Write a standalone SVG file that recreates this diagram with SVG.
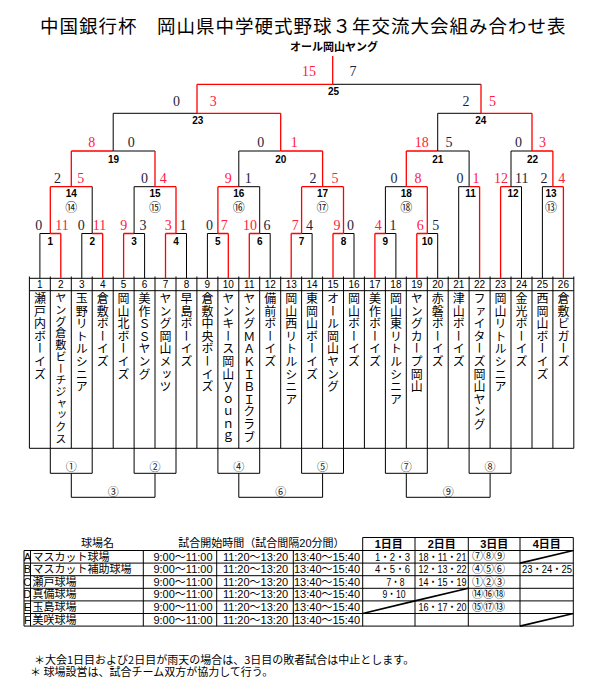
<svg xmlns="http://www.w3.org/2000/svg" width="592" height="691" viewBox="0 0 592 691">
<style>
.k{stroke:#000;stroke-width:1;fill:none}
.r{stroke:#f00;stroke-width:1.3;fill:none}
.sc{font-family:"Liberation Serif",serif;font-size:14px;text-anchor:middle}
.sr{fill:#ff2040}
.sb{fill:#1e1e3c}
.lb{font-family:"Liberation Sans",Arial,sans-serif;font-size:10px;font-weight:bold;text-anchor:middle;fill:#000}
.ci{font-family:"Noto Sans CJK JP",sans-serif;font-size:12px;text-anchor:middle;fill:#222}
.cb{font-family:"Noto Sans CJK JP",sans-serif;font-size:11px;text-anchor:middle;fill:#222}
.nm{font-family:"Noto Sans CJK JP",sans-serif;font-size:12px;writing-mode:vertical-rl;letter-spacing:0.6px;fill:#000}
.nu{font-family:"Liberation Sans",Arial,sans-serif;font-size:10px;text-anchor:middle;fill:#000}
.tt{font-family:"Noto Sans CJK JP",sans-serif;fill:#000}
.tb{font-family:"Liberation Sans","Noto Sans CJK JP",sans-serif;font-size:11px;fill:#000}
.tm{text-anchor:middle}
</style>

<text class="tt" x="40" y="33" font-size="18.5" letter-spacing="1">中国銀行杯　岡山県中学硬式野球３年交流大会組み合わせ表</text>
<text class="tt" x="334" y="51" font-size="11" font-weight="bold" text-anchor="middle">オール岡山ヤング</text>

<g id="connectors">
<path class="k" d="M29.4,278.3H573.8M29.4,290.7H573.8M29.4,448.3H573.8"/>
<path class="k" d="M29.4,276.5V448.3M50.3,276.5V448.3M71.3,276.5V448.3M92.2,276.5V448.3M113.2,276.5V448.3M134.1,276.5V448.3M155,276.5V448.3M176,276.5V448.3M196.9,276.5V448.3M217.9,276.5V448.3M238.8,276.5V448.3M259.7,276.5V448.3M280.7,276.5V448.3M301.6,276.5V448.3M322.6,276.5V448.3M343.5,276.5V448.3M364.4,276.5V448.3M385.4,276.5V448.3M406.3,276.5V448.3M427.3,276.5V448.3M448.2,276.5V448.3M469.1,276.5V448.3M490.1,276.5V448.3M511,276.5V448.3M532,276.5V448.3M552.9,276.5V448.3M573.8,276.5V448.3"/>
<path class="k" d="M39.9,278.3V233.5M81.8,278.3V233.5M144.6,278.3V233.5M186.5,278.3V233.5M207.4,278.3V233.5M270.2,278.3V233.5M312.1,278.3V233.5M354,278.3V233.5M395.9,278.3V233.5M437.7,278.3V233.5M458.7,278.3V186.7M521.5,278.3V186.7M542.4,278.3V186.7"/>
<path class="r" d="M60.8,278.3V233.5M102.7,278.3V233.5M123.6,278.3V233.5M165.5,278.3V233.5M228.3,278.3V233.5M249.3,278.3V233.5M291.2,278.3V233.5M333,278.3V233.5M374.9,278.3V233.5M416.8,278.3V233.5M479.6,278.3V186.7M500.6,278.3V186.7M563.4,278.3V186.7"/>
<path class="k" d="M39.9,233.5H50.3M81.8,233.5H92.2M134.1,233.5H144.6M176,233.5H186.5M207.4,233.5H217.9M259.7,233.5H270.2M301.6,233.5H312.1M343.5,233.5H354M385.4,233.5H395.9M427.3,233.5H437.7"/>
<path class="r" d="M50.3,233.5H60.8M92.2,233.5H102.7M123.6,233.5H134.1M165.5,233.5H176M217.9,233.5H228.3M249.3,233.5H259.7M291.2,233.5H301.6M333,233.5H343.5M374.9,233.5H385.4M416.8,233.5H427.3"/>
<path class="k" d="M458.7,186.7H469.1M511,186.7H521.5M542.4,186.7H552.9M134.1,186.7H155M238.8,186.7H259.7M385.4,186.7H406.3"/>
<path class="r" d="M469.1,186.7H479.6M500.6,186.7H511M552.9,186.7H563.4M50.3,186.7H92.2M155,186.7H176M217.9,186.7H238.8M301.6,186.7H343.5M406.3,186.7H427.3"/>
<path class="k" d="M92.2,233.5V186.7M134.1,233.5V186.7M259.7,233.5V186.7M385.4,233.5V186.7"/>
<path class="r" d="M50.3,233.5V186.7M176,233.5V186.7M217.9,233.5V186.7M301.6,233.5V186.7M343.5,233.5V186.7M427.3,233.5V186.7"/>
<path class="k" d="M113.2,151H155M238.8,151H280.7M437.7,151H469.1M511,151H532"/>
<path class="r" d="M71.3,151H113.2M280.7,151H322.6M406.3,151H437.7M532,151H552.9"/>
<path class="k" d="M238.8,186.7V151M469.1,186.7V151M511,186.7V151"/>
<path class="r" d="M71.3,186.7V151M155,186.7V151M322.6,186.7V151M406.3,186.7V151M552.9,186.7V151"/>
<path class="k" d="M113.2,113.3H197M437.7,113.3H481"/>
<path class="r" d="M197,113.3H280.7M481,113.3H532"/>
<path class="k" d="M113.2,151V113.3M437.7,151V113.3"/>
<path class="r" d="M280.7,151V113.3M532,151V113.3"/>
<path class="k" d="M332.7,84.3H481"/>
<path class="r" d="M197,84.3H332.7M197,113.3V84.3M481,113.3V84.3M332.7,84.3V56"/>
<path class="k" d="M50.3,448.3V473.3H92.2V448.3M134.1,448.3V473.3H176V448.3M217.9,448.3V473.3H259.7V448.3M301.6,448.3V473.3H343.5V448.3M385.4,448.3V473.3H427.3V448.3M469.1,448.3V473.3H511V448.3"/>
<path class="k" d="M71.3,473.3V497.3H155V473.3M238.8,473.3V497.3H322.6V473.3M406.3,473.3V497.3H490.1V473.3"/>
</g>

<g id="m1"><text class="sc sb" x="38.8" y="230">0</text><text class="sc sr" x="62" y="230">11</text><text class="lb" x="50.3" y="245">1</text></g>
<g id="m2"><text class="sc sb" x="81.3" y="230">0</text><text class="sc sr" x="99.5" y="230">11</text><text class="lb" x="92.2" y="245">2</text></g>
<g id="m3"><text class="sc sr" x="123.8" y="230">9</text><text class="sc sb" x="143" y="230">3</text><text class="lb" x="134.1" y="245">3</text></g>
<g id="m4"><text class="sc sr" x="168.3" y="230">3</text><text class="sc sb" x="183" y="230">1</text><text class="lb" x="176" y="245">4</text></g>
<g id="m5"><text class="sc sb" x="209.5" y="230">0</text><text class="sc sr" x="224.2" y="230">7</text><text class="lb" x="217.9" y="245">5</text></g>
<g id="m6"><text class="sc sr" x="250" y="230">10</text><text class="sc sb" x="267" y="230">6</text><text class="lb" x="259.7" y="245">6</text></g>
<g id="m7"><text class="sc sr" x="295.3" y="230">7</text><text class="sc sb" x="309.5" y="230">4</text><text class="lb" x="301.6" y="245">7</text></g>
<g id="m8"><text class="sc sr" x="337" y="230">9</text><text class="sc sb" x="350.5" y="230">0</text><text class="lb" x="343.5" y="245">8</text></g>
<g id="m9"><text class="sc sr" x="378.3" y="230">4</text><text class="sc sb" x="393" y="230">1</text><text class="lb" x="385.4" y="245">9</text></g>
<g id="m10"><text class="sc sr" x="420.3" y="230">6</text><text class="sc sb" x="435.7" y="230">5</text><text class="lb" x="427.3" y="245">10</text></g>
<g id="m11"><text class="sc sb" x="460" y="182.5">0</text><text class="sc sr" x="476" y="182.5">1</text><text class="lb" x="470.5" y="196.7">11</text></g>
<g id="m12"><text class="sc sr" x="501" y="182.5">12</text><text class="sc sb" x="521.7" y="182.5">11</text><text class="lb" x="513" y="196.7">12</text></g>
<g id="m13"><text class="sc sb" x="544" y="182.5">2</text><text class="sc sr" x="561.7" y="182.5">4</text><text class="lb" x="551" y="196.7">13</text><text class="ci" x="551" y="211.5">⑬</text></g>
<g id="m14"><text class="sc sb" x="57.5" y="182.5">2</text><text class="sc sr" x="80.7" y="182.5">5</text><text class="lb" x="71.3" y="196.7">14</text><text class="ci" x="71.3" y="211.5">⑭</text></g>
<g id="m15"><text class="sc sb" x="144.5" y="182.5">0</text><text class="sc sr" x="163.3" y="182.5">4</text><text class="lb" x="155" y="196.7">15</text><text class="ci" x="155" y="211.5">⑮</text></g>
<g id="m16"><text class="sc sr" x="228.3" y="182.5">9</text><text class="sc sb" x="248.2" y="182.5">1</text><text class="lb" x="238.8" y="196.7">16</text><text class="ci" x="238.8" y="211.5">⑯</text></g>
<g id="m17"><text class="sc sb" x="313" y="182.5">2</text><text class="sc sr" x="335" y="182.5">5</text><text class="lb" x="322.6" y="196.7">17</text><text class="ci" x="322.6" y="211.5">⑰</text></g>
<g id="m18"><text class="sc sb" x="394" y="182.5">0</text><text class="sc sr" x="418" y="182.5">8</text><text class="lb" x="406.3" y="196.7">18</text><text class="ci" x="406.3" y="211.5">⑱</text></g>
<g id="m19"><text class="sc sr" x="91.7" y="147">8</text><text class="sc sb" x="131.3" y="147">0</text><text class="lb" x="113.5" y="162.5">19</text></g>
<g id="m20"><text class="sc sb" x="260.8" y="147">0</text><text class="sc sr" x="294.2" y="147">1</text><text class="lb" x="280.8" y="162.5">20</text></g>
<g id="m21"><text class="sc sr" x="421.7" y="147">18</text><text class="sc sb" x="449" y="147">5</text><text class="lb" x="437.7" y="162.5">21</text></g>
<g id="m22"><text class="sc sb" x="518.5" y="147">0</text><text class="sc sr" x="542.5" y="147">3</text><text class="lb" x="532.5" y="162.5">22</text></g>
<g id="m23"><text class="sc sb" x="176.6" y="106">0</text><text class="sc sr" x="213.2" y="106">3</text><text class="lb" x="197.7" y="124">23</text></g>
<g id="m24"><text class="sc sb" x="466" y="106">2</text><text class="sc sr" x="492.5" y="106">5</text><text class="lb" x="480.8" y="124">24</text></g>
<g id="m25"><text class="sc sr" x="309" y="76">15</text><text class="sc sb" x="353" y="76">7</text><text class="lb" x="333.5" y="95">25</text></g>

<g id="bottom">
<text class="cb" x="71.3" y="471">①</text><text class="cb" x="155" y="471">②</text><text class="cb" x="238.8" y="471">④</text><text class="cb" x="322.6" y="471">⑤</text><text class="cb" x="406.3" y="471">⑦</text><text class="cb" x="490.1" y="471">⑧</text>
<text class="cb" x="113.2" y="495.5">③</text><text class="cb" x="280.7" y="495.5">⑥</text><text class="cb" x="448.2" y="495.5">⑨</text>
</g>

<g id="teams">
<g id="t1"><text class="nu" x="39.9" y="288.3">1</text><text class="nm" x="39.9" y="292.5">瀬戸内ボーイズ</text></g>
<g id="t2"><text class="nu" x="60.8" y="288.3">2</text><text class="nm" x="60.8" y="292.5" style="font-size:11.2px;letter-spacing:0.5px">ヤング倉敷ビーチジャックス</text></g>
<g id="t3"><text class="nu" x="81.8" y="288.3">3</text><text class="nm" x="81.8" y="292.5">玉野リトルシニア</text></g>
<g id="t4"><text class="nu" x="102.7" y="288.3">4</text><text class="nm" x="102.7" y="292.5">倉敷ボーイズ</text></g>
<g id="t5"><text class="nu" x="123.6" y="288.3">5</text><text class="nm" x="123.6" y="292.5">岡山北ボーイズ</text></g>
<g id="t6"><text class="nu" x="144.6" y="288.3">6</text><text class="nm" x="144.6" y="292.5">美作ＳＳヤング</text></g>
<g id="t7"><text class="nu" x="165.5" y="288.3">7</text><text class="nm" x="165.5" y="292.5">ヤング岡山メッツ</text></g>
<g id="t8"><text class="nu" x="186.5" y="288.3">8</text><text class="nm" x="186.5" y="292.5">早島ボーイズ</text></g>
<g id="t9"><text class="nu" x="207.4" y="288.3">9</text><text class="nm" x="207.4" y="292.5">倉敷中央ボーイズ</text></g>
<g id="t10"><text class="nu" x="228.3" y="288.3">10</text><text class="nm" x="228.3" y="292.5">ヤンキース岡山ｙｏｕｎｇ</text></g>
<g id="t11"><text class="nu" x="249.3" y="288.3">11</text><text class="nm" x="249.3" y="292.5">ヤングＭＡＫＩＢＩクラブ</text></g>
<g id="t12"><text class="nu" x="270.2" y="288.3">12</text><text class="nm" x="270.2" y="292.5">備前ボーイズ</text></g>
<g id="t13"><text class="nu" x="291.2" y="288.3">13</text><text class="nm" x="291.2" y="292.5">岡山西リトルシニア</text></g>
<g id="t14"><text class="nu" x="312.1" y="288.3">14</text><text class="nm" x="312.1" y="292.5">東岡山ボーイズ</text></g>
<g id="t15"><text class="nu" x="333" y="288.3">15</text><text class="nm" x="333" y="292.5">オール岡山ヤング</text></g>
<g id="t16"><text class="nu" x="354" y="288.3">16</text><text class="nm" x="354" y="292.5">岡山ボーイズ</text></g>
<g id="t17"><text class="nu" x="374.9" y="288.3">17</text><text class="nm" x="374.9" y="292.5">美作ボーイズ</text></g>
<g id="t18"><text class="nu" x="395.9" y="288.3">18</text><text class="nm" x="395.9" y="292.5">岡山東リトルシニア</text></g>
<g id="t19"><text class="nu" x="416.8" y="288.3">19</text><text class="nm" x="416.8" y="292.5">ヤングカープ岡山</text></g>
<g id="t20"><text class="nu" x="437.7" y="288.3">20</text><text class="nm" x="437.7" y="292.5">赤磐ボーイズ</text></g>
<g id="t21"><text class="nu" x="458.7" y="288.3">21</text><text class="nm" x="458.7" y="292.5">津山ボーイズ</text></g>
<g id="t22"><text class="nu" x="479.6" y="288.3">22</text><text class="nm" x="479.6" y="292.5">ファイターズ岡山ヤング</text></g>
<g id="t23"><text class="nu" x="500.6" y="288.3">23</text><text class="nm" x="500.6" y="292.5">岡山リトルシニア</text></g>
<g id="t24"><text class="nu" x="521.5" y="288.3">24</text><text class="nm" x="521.5" y="292.5">金光ボーイズ</text></g>
<g id="t25"><text class="nu" x="542.4" y="288.3">25</text><text class="nm" x="542.4" y="292.5">西岡山ボーイズ</text></g>
<g id="t26"><text class="nu" x="563.4" y="288.3">26</text><text class="nm" x="563.4" y="292.5">倉敷ビガーズ</text></g>
</g>

<g id="table">
<path class="k" d="M362.7,537.5H573.3M24,550.5H573.3M24,563.1H573.3M24,575.7H573.3M24,588.3H573.3M24,600.9H573.3M24,613.5H573.3M24,626.1H573.3"/>
<path class="k" d="M24,550.5V626.1M30.5,550.5V626.1M143.3,550.5V626.1M216.7,550.5V626.1M293.3,550.5V626.1M362.7,537.5V626.1M415,537.5V626.1M468.3,537.5V626.1M520,537.5V626.1M573.3,537.5V626.1"/>
<path class="k" style="stroke-width:1.6" d="M520,563.1L573.3,550.5M415,600.9L468.3,588.3M362.7,613.5L415,600.9M520,626.1L573.3,613.5"/>
<text class="tt" x="97.5" y="547" font-size="11" text-anchor="middle">球場名</text>
<text class="tb" x="178.3" y="547">試合開始時間（試合間隔20分間）</text>
<text class="tb tm" x="388.8" y="547.5" font-weight="bold">1日目</text>
<text class="tb tm" x="441.7" y="547.5" font-weight="bold">2日目</text>
<text class="tb tm" x="494.2" y="547.5" font-weight="bold">3日目</text>
<text class="tb tm" x="546.7" y="547.5" font-weight="bold">4日目</text>
<g font-size="10.5">
<text class="tb tm" x="27.3" y="560.5">A</text><text class="tb tm" x="27.3" y="573.1">B</text><text class="tb tm" x="27.3" y="585.7">C</text><text class="tb tm" x="27.3" y="598.3">D</text><text class="tb tm" x="27.3" y="610.9">E</text><text class="tb tm" x="27.3" y="623.5">F</text>
<text class="tb" x="32.5" y="560.5">マスカット球場</text><text class="tb" x="32.5" y="573.1">マスカット補助球場</text><text class="tb" x="32.5" y="585.7">瀬戸球場</text><text class="tb" x="32.5" y="598.3">真備球場</text><text class="tb" x="32.5" y="610.9">玉島球場</text><text class="tb" x="32.5" y="623.5">美咲球場</text>
</g>
<g class="tb tm">
<text x="183" y="560.5">9:00〜11:00</text><text x="183" y="573.1">9:00〜11:00</text><text x="183" y="585.7">9:00〜11:00</text><text x="183" y="598.3">9:00〜11:00</text><text x="183" y="610.9">9:00〜11:00</text><text x="183" y="623.5">9:00〜11:00</text>
<text x="255.5" y="560.5">11:20〜13:20</text><text x="255.5" y="573.1">11:20〜13:20</text><text x="255.5" y="585.7">11:20〜13:20</text><text x="255.5" y="598.3">11:20〜13:20</text><text x="255.5" y="610.9">11:20〜13:20</text><text x="255.5" y="623.5">11:20〜13:20</text>
<text x="327" y="560.5">13:40〜15:40</text><text x="327" y="573.1">13:40〜15:40</text><text x="327" y="585.7">13:40〜15:40</text><text x="327" y="598.3">13:40〜15:40</text><text x="327" y="610.9">13:40〜15:40</text><text x="327" y="623.5">13:40〜15:40</text>
<text x="392.5" y="560.5" textLength="35" lengthAdjust="spacingAndGlyphs">1・2・3</text><text x="392.5" y="573.1" textLength="35" lengthAdjust="spacingAndGlyphs">4・5・6</text><text x="395.5" y="585.7" textLength="18" lengthAdjust="spacingAndGlyphs">7・8</text><text x="394" y="598.3" textLength="23" lengthAdjust="spacingAndGlyphs">9・10</text>
</g>
<g class="tb tm" font-size="10">
<text x="442.5" y="560.5" textLength="48" lengthAdjust="spacingAndGlyphs">18・11・21</text><text x="442.5" y="573.1" textLength="48" lengthAdjust="spacingAndGlyphs">12・13・22</text><text x="442.5" y="585.7" textLength="48" lengthAdjust="spacingAndGlyphs">14・15・19</text><text x="442.5" y="610.9" textLength="48" lengthAdjust="spacingAndGlyphs">16・17・20</text>
<text x="547" y="573.1" textLength="50" lengthAdjust="spacingAndGlyphs">23・24・25</text>
</g>
<g class="tt tm" font-size="11">
<text x="488.5" y="560.3">⑦⑧⑨</text><text x="488.5" y="572.9">④⑤⑥</text><text x="488.5" y="585.5">①②③</text><text x="488.5" y="598.1">⑭⑯⑱</text><text x="488.5" y="610.7">⑮⑰⑬</text>
</g>
</g>

<g id="notes" class="tt" font-size="11">
<text x="34" y="664">＊大会1日目および2日目が雨天の場合は、3日目の敗者試合は中止とします。</text>
<text x="30" y="675.5">＊ 球場設営は、試合チーム双方が協力して行う。</text>
</g>
</svg>
